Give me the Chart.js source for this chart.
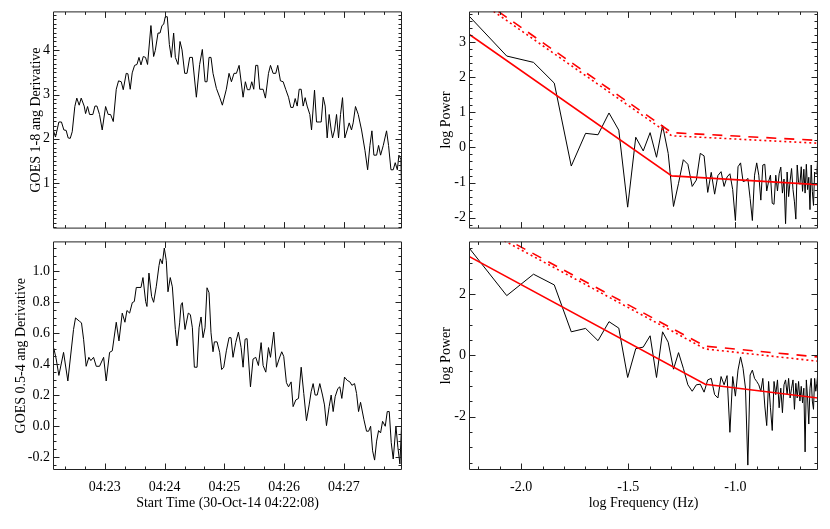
<!DOCTYPE html>
<html lang="en">
<head>
<meta charset="UTF-8">
<title>GOES derivative and power spectra</title>
<script src="https://cdn.jsdelivr.net/npm/chart.js"></script>
<style>
  body { margin: 0; background: #fff; }
  #wrap { position: relative; width: 830px; height: 529px; }
  canvas { position: absolute; }
</style>
</head>
<body>
<div id="wrap">
  <canvas id="tl" width="410" height="240" style="left:0;top:0"></canvas>
  <canvas id="bl" width="410" height="299" style="left:0;top:230px"></canvas>
  <canvas id="tr" width="420" height="240" style="left:410px;top:0"></canvas>
  <canvas id="br" width="420" height="299" style="left:410px;top:230px"></canvas>
</div>
<script>
// seconds after 04:22:08 and derivative values, GOES 1-8 ang
const t18 = [0.5,2.5,5.9,8.5,10.9,13.2,15.2,17.3,19.3,21.9,
  23.9,26.3,28.3,31.3,32.7,34.7,36.7,40.0,42.1,44.1,
  46.7,49.4,52.8,55.4,57.8,60.5,63.5,65.8,68.5,70.5,
  73.5,75.2,77.5,79.5,81.9,84.3,86.3,88.3,90.6,92.9,
  94.9,98.3,101.0,102.7,105.4,107.4,109.4,111.1,112.7,114.7,
  116.8,118.8,121.1,122.8,125.5,127.5,129.5,132.2,134.5,137.2,
  139.9,143.9,147.2,149.9,152.6,154.6,156.6,158.6,160.6,164.0,
  167.3,170.0,174.0,176.7,179.1,181.7,184.1,186.8,190.8,193.1,
  195.1,197.5,199.5,201.5,203.5,205.5,207.5,210.9,213.2,216.3,
  218.3,220.9,223.6,225.6,228.3,231.0,233.7,236.4,238.7,241.0,
  243.1,245.1,247.1,249.1,251.1,253.1,255.1,257.8,259.5,262.5,
  264.5,267.2,269.2,271.2,273.2,275.2,277.2,279.2,280.6,282.6,
  284.6,286.6,288.6,290.6,292.9,295.3,297.3,299.6,301.3,303.6,
  306.4,309.7,313.1,315.8,318.1,320.1,322.1,324.8,326.8,328.8,
  331.5,334.8,336.8,339.2,341.5,343.5,345.6,347.2,349.2,350.3];
const d18 = [2.18,2.04,2.38,2.38,2.20,2.19,2.02,2.01,2.16,2.73,
  2.92,2.76,2.92,2.74,2.57,2.73,2.55,2.55,2.74,2.74,
  2.55,2.20,2.73,2.55,2.55,2.39,3.12,3.31,3.29,3.11,
  3.48,3.47,3.12,3.49,3.66,3.68,3.84,3.67,3.86,3.84,
  3.68,4.56,3.86,4.00,4.39,4.39,4.56,4.59,4.76,4.76,
  4.13,3.84,4.39,3.84,3.68,4.20,4.01,3.48,3.48,3.84,
  3.84,2.94,3.68,4.02,3.29,3.29,3.84,3.84,3.48,3.14,
  2.94,2.76,3.12,3.48,3.29,3.48,3.48,3.66,2.94,3.29,
  3.11,3.11,3.29,3.12,3.66,3.66,3.12,3.12,2.92,3.48,
  3.66,3.48,3.48,3.66,3.31,3.29,3.11,2.94,2.71,2.71,
  2.91,2.74,3.12,3.12,2.74,2.93,2.74,2.55,2.20,3.10,
  2.38,2.38,2.38,2.94,2.74,2.02,2.55,2.20,2.02,2.20,
  2.55,2.02,2.55,2.93,2.02,2.20,2.36,2.20,2.36,2.73,
  2.55,2.20,1.74,1.30,1.85,2.18,1.63,1.63,1.85,1.63,
  1.85,2.18,1.85,1.30,1.30,1.46,1.30,1.63,1.53,0.43];

// GOES 0.5-4 ang
const t054 = [0.8,3.2,5.9,10.6,14.9,20.6,22.6,26.6,28.6,30.7,
  33.3,36.0,38.0,40.7,43.4,46.7,50.8,53.4,56.8,59.5,
  63.5,66.2,69.5,72.2,74.2,76.9,79.6,81.6,83.6,88.3,
  90.3,93.0,94.3,96.3,99.0,101.0,103.7,106.4,107.7,109.7,
  111.7,113.7,115.4,117.7,119.8,122.8,124.5,127.1,128.5,129.8,
  132.5,135.8,137.9,139.9,141.9,144.6,146.6,148.6,150.6,152.6,
  154.6,156.6,158.6,160.6,162.0,164.7,167.3,169.3,171.4,174.0,
  176.7,178.7,180.7,183.4,186.1,188.8,190.8,192.8,194.8,198.2,
  200.8,203.5,206.2,208.9,210.9,213.6,216.3,218.3,221.6,224.3,
  226.9,229.6,231.6,234.3,236.4,239.0,241.0,243.7,246.4,249.1,
  251.7,254.4,257.1,259.1,261.1,263.1,265.2,267.8,270.5,272.5,
  274.5,277.2,279.2,281.2,283.2,285.9,287.9,289.9,292.6,295.3,
  298.0,300.0,302.7,304.7,306.7,308.7,312.1,314.7,316.8,318.8,
  320.8,322.8,324.8,326.8,328.8,330.8,333.5,335.5,337.5,339.5,
  341.5,344.2,346.2,348.2,349.9];
const d054 = [0.503,0.433,0.327,0.476,0.291,0.624,0.699,0.677,0.667,0.561,
  0.386,0.444,0.423,0.444,0.386,0.386,0.444,0.291,0.476,0.486,
  0.671,0.550,0.730,0.671,0.747,0.730,0.798,0.805,0.896,0.896,
  0.960,0.805,0.773,0.989,0.837,0.800,0.904,1.038,1.081,1.049,
  1.151,1.070,0.868,0.960,0.900,0.624,0.518,0.667,0.783,0.798,
  0.624,0.730,0.720,0.635,0.380,0.380,0.635,0.705,0.571,0.635,
  0.894,0.862,0.603,0.480,0.544,0.544,0.476,0.365,0.380,0.486,
  0.571,0.571,0.444,0.539,0.607,0.507,0.380,0.561,0.565,0.253,
  0.433,0.444,0.391,0.539,0.391,0.348,0.507,0.444,0.607,0.380,
  0.433,0.480,0.450,0.280,0.253,0.285,0.125,0.168,0.178,0.380,
  0.210,0.034,0.136,0.221,0.274,0.200,0.200,0.274,0.200,0.136,
  0.002,0.125,0.200,0.093,0.189,0.242,0.253,0.178,0.316,0.295,
  0.285,0.263,0.274,0.210,0.093,0.153,0.040,-0.034,-0.034,-0.002,
  -0.161,-0.221,-0.098,-0.030,-0.045,0.030,-0.002,0.093,0.093,-0.108,
  -0.214,-0.002,-0.140,-0.246,0.013];

// log frequency (Hz) of the spectra
const logFreq = [-2.2430,-2.0669,-1.9420,-1.8451,-1.7659,-1.6990,-1.6410,-1.5898,-1.5441,-1.5027,
  -1.4649,-1.4301,-1.3979,-1.3680,-1.3399,-1.3136,-1.2888,-1.2653,-1.2430,-1.2218,
  -1.2016,-1.1823,-1.1639,-1.1461,-1.1291,-1.1127,-1.0969,-1.0817,-1.0669,-1.0527,
  -1.0389,-1.0256,-1.0126,-1.0000,-0.9878,-0.9759,-0.9643,-0.9530,-0.9420,-0.9313,
  -0.9208,-0.9106,-0.9006,-0.8909,-0.8813,-0.8720,-0.8628,-0.8539,-0.8451,-0.8365,
  -0.8281,-0.8198,-0.8117,-0.8037,-0.7959,-0.7882,-0.7806,-0.7732,-0.7659,-0.7587,
  -0.7517,-0.7447,-0.7379,-0.7312,-0.7245,-0.7180,-0.7116,-0.7052,-0.6990,-0.6928,
  -0.6867,-0.6807,-0.6748,-0.6690,-0.6633,-0.6576,-0.6520,-0.6464,-0.6410,-0.6356,
  -0.6303,-0.6250,-0.6198,-0.6146];
// log power, 1-8 ang
const pow18 = [3.74,2.60,2.42,1.83,-0.53,0.40,0.36,0.98,0.49,-1.70,
  0.29,-0.10,0.42,-0.28,0.63,-0.17,-1.68,-1.02,-0.35,-0.48,
  -1.11,-0.93,-0.17,-0.24,-1.28,-0.71,-1.33,-0.80,-0.69,-1.11,
  -0.84,-0.75,-1.20,-2.08,-0.55,-0.44,-0.97,-0.95,-0.88,-1.45,
  -2.08,-0.79,-0.44,-0.79,-1.50,-0.50,-0.48,-1.24,-0.97,-0.79,
  -1.59,-1.62,-0.79,-1.24,-0.75,-0.56,-1.30,-0.90,-2.17,-0.70,
  -1.40,-0.95,-0.60,-1.20,-1.55,-2.04,-0.50,-1.00,-1.05,-0.55,
  -1.25,-0.62,-1.30,-0.48,-1.20,-0.85,-1.77,-0.50,-1.25,-1.65,
  -0.70,-0.75,-0.75,-0.05];
// log power, 0.5-4 ang
const pow054 = [3.51,1.95,2.65,2.30,0.77,0.88,0.48,1.10,0.89,-0.72,
  0.22,0.27,0.64,-0.72,0.77,0.43,-0.45,0.09,-0.42,-0.96,
  -1.17,-0.96,-0.94,-1.20,-0.80,-0.75,-1.28,-1.39,-0.69,-0.96,
  -0.66,-2.51,-0.69,-1.33,-0.48,-0.05,-0.42,-1.07,-3.58,-0.64,
  -0.48,-0.75,-0.85,-0.96,-1.17,-0.75,-1.65,-2.29,-0.85,-1.71,
  -2.45,-0.85,-1.28,-0.80,-1.71,-1.07,-1.87,-0.96,-0.80,-1.28,
  -0.75,-1.39,-1.07,-0.80,-1.76,-0.91,-1.39,-0.85,-1.49,-1.01,
  -1.55,-1.07,-3.15,-0.80,-1.39,-2.24,-1.07,-0.75,-1.49,-1.76,
  -0.75,-1.17,-0.91,-0.53];

// broken power-law fit and confidence levels: start, break, end
const fit18X = [-2.243, -1.297, -0.6146];
const fit18 = [3.22, -0.81, -1.06];
const conf18Dash = [4.45, 0.42, 0.20];
const conf18Dot = [4.36, 0.33, 0.12];
const fit054X = [-2.243, -1.141, -0.6146];
const fit054 = [3.23, -0.94, -1.39];
const conf054Dash = [4.45, 0.30, -0.05];
const conf054Dot = [4.36, 0.21, -0.19];

const timeTicks = [52, 112, 172, 232, 292];
const timeLabels = ['04:23', '04:24', '04:25', '04:26', '04:27'];
const freqTicks = [-2.0, -1.5, -1.0];

Chart.defaults.font.family = "'Liberation Serif', 'Times New Roman', serif";
Chart.defaults.font.size = 14;
Chart.defaults.color = '#000';

const pts = (xs, ys) => xs.map((x, i) => ({ x, y: ys[i] }));
const range = (a, b, s) => {
  const r = [];
  for (let v = a; v <= b + 1e-9; v += s) r.push(+v.toFixed(4));
  return r;
};

// IDL-like box with inward ticks on all four sides
const idlFrame = {
  id: 'idlFrame',
  afterDatasetsDraw(chart, args, o) {
    const { ctx, chartArea: a, scales: { x, y } } = chart;
    ctx.save();
    ctx.strokeStyle = '#222';
    ctx.lineWidth = 1;
    ctx.beginPath();
    const L = a.left + 0.5, R = a.right - 0.5, T = a.top + 0.5, B = a.bottom - 0.5;
    const xt = (v, len) => {
      if (v < x.min || v > x.max) return;
      const p = Math.round(x.getPixelForValue(v)) + 0.5;
      ctx.moveTo(p, B); ctx.lineTo(p, B - len);
      ctx.moveTo(p, T); ctx.lineTo(p, T + len);
    };
    const yt = (v, len) => {
      if (v < y.min || v > y.max) return;
      const p = Math.round(y.getPixelForValue(v)) + 0.5;
      ctx.moveTo(L, p); ctx.lineTo(L + len, p);
      ctx.moveTo(R, p); ctx.lineTo(R - len, p);
    };
    o.xMinor.forEach(v => xt(v, 3));
    o.xMajor.forEach(v => xt(v, 6));
    o.yMinor.forEach(v => yt(v, 3));
    o.yMajor.forEach(v => yt(v, 6));
    ctx.rect(L, T, R - L, B - T);
    ctx.stroke();
    ctx.restore();
  }
};

function panel(id, o) {
  return new Chart(document.getElementById(id), {
    type: 'line',
    data: { datasets: o.datasets },
    options: {
      responsive: false,
      animation: false,
      layout: { padding: { top: o.top, right: o.right, left: 0, bottom: 0 } },
      elements: { point: { radius: 0 }, line: { tension: 0 } },
      plugins: {
        legend: { display: false },
        tooltip: { enabled: false },
        idlFrame: { xMajor: o.xMajor, xMinor: o.xMinor, yMajor: o.yMajor, yMinor: o.yMinor }
      },
      scales: {
        x: {
          type: 'linear', min: o.xMin, max: o.xMax,
          grid: { display: false, drawTicks: false }, border: { display: false },
          afterBuildTicks: s => { s.ticks = o.xMajor.map(v => ({ value: v })); },
          ticks: { display: o.xShow, padding: 9, maxRotation: 0, autoSkip: false, callback: o.xFmt },
          title: { display: !!o.xTitle, text: o.xTitle || '', padding: { top: 0, bottom: 17 } },
          afterFit: s => { s.height = o.xH; }
        },
        y: {
          type: 'linear', min: o.yMin, max: o.yMax,
          grid: { display: false, drawTicks: false }, border: { display: false },
          afterBuildTicks: s => { s.ticks = o.yMajor.map(v => ({ value: v })); },
          ticks: { padding: 3, autoSkip: false, callback: o.yFmt },
          title: { display: true, text: o.yTitle, padding: { top: o.yTitlePad, bottom: 0 } },
          afterFit: s => { s.width = o.yW; }
        }
      }
    },
    plugins: [idlFrame]
  });
}

const black = data => ({ data, borderColor: '#000', borderWidth: 1 });
const red = (data, dash) => ({ data, borderColor: '#ff0000', borderWidth: 1.6, borderDash: dash || [] });
const timeFmt = v => timeLabels[timeTicks.indexOf(v)];
const freqFmt = v => v.toFixed(1);

panel('tl', {
  datasets: [black(pts(t18, d18))],
  top: 5, right: 8, yW: 53, xH: 3, xShow: false,
  xMin: 0, xMax: 350.3, xMajor: timeTicks, xMinor: range(12, 350, 20), xFmt: timeFmt,
  yMin: -0.03, yMax: 4.88, yMajor: [1, 2, 3, 4], yMinor: range(0, 4.8, 0.1), yFmt: v => String(v),
  yTitle: 'GOES 1-8 ang Derivative', yTitlePad: 28
});
panel('bl', {
  datasets: [black(pts(t054, d054))],
  top: 7, right: 8, yW: 53, xH: 59, xShow: true,
  xMin: 0, xMax: 350.3, xMajor: timeTicks, xMinor: range(12, 350, 20), xFmt: timeFmt,
  xTitle: 'Start Time (30-Oct-14 04:22:08)',
  yMin: -0.285, yMax: 1.194, yMajor: range(-0.2, 1.0, 0.2), yMinor: range(-0.25, 1.15, 0.05), yFmt: v => v.toFixed(1),
  yTitle: 'GOES 0.5-4 ang Derivative', yTitlePad: 13
});
panel('tr', {
  datasets: [
    red(pts(fit18X, fit18)),
    red(pts(fit18X, conf18Dash), [10, 8]),
    red(pts(fit18X, conf18Dot), [2, 3]),
    black(pts(logFreq, pow18))
  ],
  top: 5, right: 12, yW: 59, xH: 3, xShow: false,
  xMin: -2.243, xMax: -0.6146, xMajor: freqTicks, xMinor: range(-2.2, -0.7, 0.1), xFmt: freqFmt,
  yMin: -2.31, yMax: 3.87, yMajor: [-2, -1, 0, 1, 2, 3], yMinor: range(-2.2, 3.8, 0.2), yFmt: v => String(v),
  yTitle: 'log Power', yTitlePad: 28
});
panel('br', {
  datasets: [
    red(pts(fit054X, fit054)),
    red(pts(fit054X, conf054Dash), [10, 8]),
    red(pts(fit054X, conf054Dot), [2, 3]),
    black(pts(logFreq, pow054))
  ],
  top: 7, right: 12, yW: 59, xH: 59, xShow: true,
  xMin: -2.243, xMax: -0.6146, xMajor: freqTicks, xMinor: range(-2.2, -0.7, 0.1), xFmt: freqFmt,
  xTitle: 'log Frequency (Hz)',
  yMin: -3.74, yMax: 3.72, yMajor: [-2, 0, 2], yMinor: range(-3.5, 3.5, 0.5), yFmt: v => String(v),
  yTitle: 'log Power', yTitlePad: 28
});
</script>
</body>
</html>
